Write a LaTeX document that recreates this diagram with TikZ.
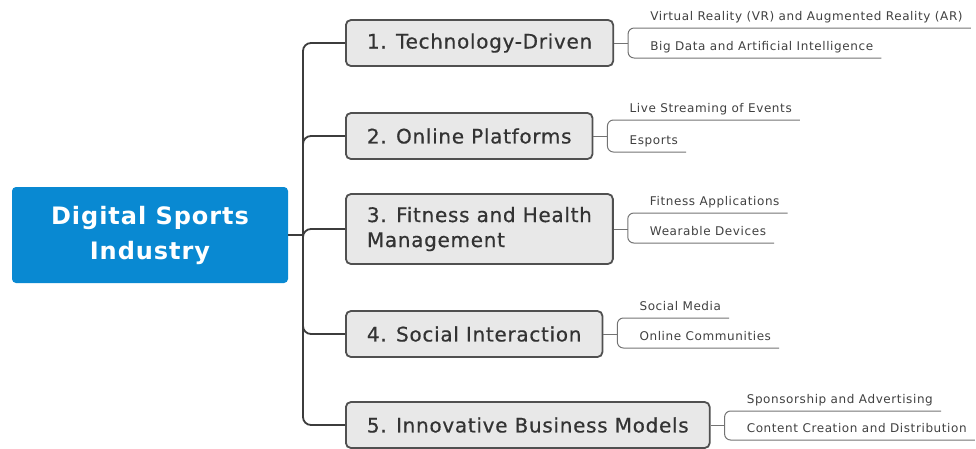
\documentclass[tikz,border=0pt]{standalone}
\usepackage{fontspec}
\setmainfont{DejaVu Sans}
\newfontfamily\rootfont[LetterSpace=4]{DejaVu Sans}
\newfontfamily\branchfont[LetterSpace=3.5, FakeBold=0.5]{DejaVu Sans}
\newfontfamily\leaffont[LetterSpace=5]{DejaVu Sans}
\usetikzlibrary{positioning, calc}

\definecolor{rootblue}{RGB}{9,137,210}
\definecolor{branchfill}{RGB}{232,232,232}
\definecolor{branchline}{RGB}{80,80,80}
\definecolor{linkgray}{RGB}{60,60,60}
\definecolor{leafgray}{RGB}{115,115,115}

\begin{document}
\begin{tikzpicture}[
    x=1pt, y=1pt,
    root/.style={
        rectangle,
        rounded corners=4pt,
        fill=rootblue,
        text=white,
        minimum width=276pt,
        minimum height=96pt,
        align=center,
        font=\rootfont\fontsize{24}{35}\selectfont\bfseries
    },
    branch/.style={
        draw=branchline,
        line width=1.8pt,
        rectangle,
        rounded corners=5pt,
        fill=branchfill,
        text=black!80,
        minimum height=46pt,
        inner xsep=21pt,
        align=left,
        anchor=west,
        font=\branchfont\fontsize{20}{25}\selectfont
    },
    leaf/.style={
        anchor=south west,
        inner xsep=8pt,
        inner ysep=4pt,
        text height=9pt,
        text depth=3pt,
        text=black!75,
        font=\leaffont\fontsize{12}{14}\selectfont
    },
    trunk/.style={draw=linkgray, line width=1.8pt, rounded corners=8pt},
    twig/.style={draw=leafgray, line width=1pt, rounded corners=6pt}
]
\useasboundingbox (0,0) rectangle (976,-448);

% Central topic
\node[root] (root) at (150,-235) {Digital Sports\\Industry};

% Main branches
\node[branch] (tech) at (345,-43) {1. Technology-Driven};
\node[branch] (online) at (345,-136) {2. Online Platforms};
\node[branch, minimum height=70pt] (fit) at (345,-229) {3. Fitness and Health\\Management};
\node[branch] (social) at (345,-334) {4. Social Interaction};
\node[branch] (biz) at (345,-425) {5. Innovative Business Models};

% Trunk from the central topic
\coordinate (hub) at (303,-235);
\draw[trunk] (root.east) -- (hub);
\draw[trunk] (hub) |- (tech.west);
\draw[trunk] (hub) |- (online.west);
\draw[trunk] (hub) -- (hub |- fit.west) -- (fit.west);
\draw[trunk] (hub) |- (social.west);
\draw[trunk] (hub) |- (biz.west);

% Bracket joints right of each branch
\coordinate[right=14pt of tech.east] (jtech);
\coordinate[right=14pt of online.east] (jonline);
\coordinate[right=14pt of fit.east] (jfit);
\coordinate[right=14pt of social.east] (jsocial);
\coordinate[right=14pt of biz.east] (jbiz);

% Sub-topics
\node[leaf] (vr) at ([shift={(14,15)}]jtech) {Virtual Reality (VR) and Augmented Reality (AR)};
\node[leaf] (bigdata) at ([shift={(14,-15)}]jtech) {Big Data and Artificial Intelligence};

\node[leaf] (live) at ([shift={(14,16)}]jonline) {Live Streaming of Events};
\node[leaf] (esports) at ([shift={(14,-16)}]jonline) {Esports};

\node[leaf] (apps) at ([shift={(14,16)}]jfit) {Fitness Applications};
\node[leaf] (wear) at ([shift={(14,-14)}]jfit) {Wearable Devices};

\node[leaf] (media) at ([shift={(14,16)}]jsocial) {Social Media};
\node[leaf] (community) at ([shift={(14,-14)}]jsocial) {Online Communities};

\node[leaf] (sponsor) at ([shift={(14,14)}]jbiz) {Sponsorship and Advertising};
\node[leaf] (content) at ([shift={(14,-15)}]jbiz) {Content Creation and Distribution};

% Brackets with underlines
\draw[twig] (tech.east) -- (jtech);
\draw[twig] (vr.south east) -| (jtech) |- (bigdata.south east);
\draw[twig] (online.east) -- (jonline);
\draw[twig] (live.south east) -| (jonline) |- (esports.south east);
\draw[twig] (fit.east) -- (jfit);
\draw[twig] (apps.south east) -| (jfit) |- (wear.south east);
\draw[twig] (social.east) -- (jsocial);
\draw[twig] (media.south east) -| (jsocial) |- (community.south east);
\draw[twig] (biz.east) -- (jbiz);
\draw[twig] (sponsor.south east) -| (jbiz) |- (content.south east);

\end{tikzpicture}
\end{document}
